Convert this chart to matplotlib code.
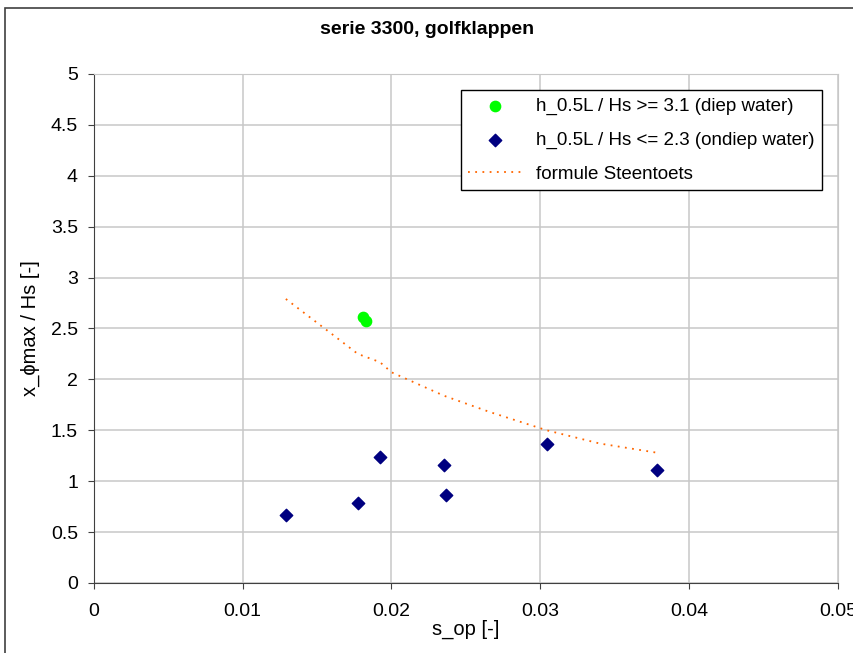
import matplotlib
matplotlib.use("Agg")
import matplotlib.pyplot as plt
from matplotlib.patches import Rectangle

plt.rcParams['font.family'] = ['Liberation Sans', 'DejaVu Sans']

# deep water points
deep_x = [0.01808, 0.01828]
deep_y = [2.613, 2.574]

# shallow water points
shallow_x = [0.0129, 0.01774, 0.01922, 0.02352, 0.02366, 0.03044, 0.03784]
shallow_y = [0.668, 0.786, 1.238, 1.159, 0.864, 1.365, 1.110]

# formula Steentoets
form_x = [0.0129, 0.0159, 0.01774, 0.01922, 0.0200, 0.02352, 0.0266, 0.03044, 0.0340, 0.03784]
form_y = [2.79, 2.456, 2.25, 2.17, 2.07, 1.84, 1.68, 1.50, 1.37, 1.28]

fig = plt.figure(figsize=(8.54, 6.53), dpi=100)
ax = fig.add_axes([0.110, 0.1072, 0.871, 0.7795])

ax.grid(True, color='#c8c8c8', linewidth=1.1)
ax.set_axisbelow(True)

ax.plot(form_x, form_y, linestyle=(0, (1, 3)), color='#ff6600', linewidth=1.3,
        label='formule Steentoets', zorder=2)
ax.scatter(deep_x, deep_y, marker='o', s=55, color='#00ff00',
           label='h_0.5L / Hs >= 3.1 (diep water)', zorder=3)
ax.scatter(shallow_x, shallow_y, marker='D', s=40, color='#000080',
           label='h_0.5L / Hs <= 2.3 (ondiep water)', zorder=3)

ax.set_xlim(0, 0.05)
ax.set_ylim(0, 5)
ax.set_xticks([0, 0.01, 0.02, 0.03, 0.04, 0.05])
ax.set_xticklabels(['0', '0.01', '0.02', '0.03', '0.04', '0.05'])
ax.set_yticks([0, 0.5, 1, 1.5, 2, 2.5, 3, 3.5, 4, 4.5, 5])
ax.set_yticklabels(['0', '0.5', '1', '1.5', '2', '2.5', '3', '3.5', '4', '4.5', '5'])
ax.tick_params(labelsize=14, direction='out', length=4.5, color='#404040')
ax.tick_params(axis='x', pad=10)
ax.tick_params(axis='y', pad=7)

for side in ['top', 'right']:
    ax.spines[side].set_color('#c8c8c8')
for side in ['left', 'bottom']:
    ax.spines[side].set_color('#404040')

ax.set_xlabel('s_op [-]', fontsize=14.5, labelpad=0)
ax.set_ylabel('x_\u03d5max / Hs [-]', fontsize=14.5, labelpad=8)
fig.text(0.5, 0.955, 'serie 3300, golfklappen', ha='center', va='center',
         fontsize=14, fontweight='bold')

handles, labels = ax.get_legend_handles_labels()
order = [1, 2, 0]
leg = ax.legend([handles[i] for i in order], [labels[i] for i in order],
                loc='upper right', bbox_to_anchor=(0.9785, 0.9686), borderaxespad=0,
                fontsize=13.5, frameon=True, fancybox=False, edgecolor='black',
                framealpha=1, borderpad=0.4, labelspacing=0.9, handlelength=2.8,
                handletextpad=0.8)
leg.get_frame().set_linewidth(1.0)

fig.patches.append(Rectangle((0.006, -0.01), 1.0, 0.997, transform=fig.transFigure,
                             fill=False, edgecolor='#404040', linewidth=1.2))

fig.savefig('out.png', dpi=100)
